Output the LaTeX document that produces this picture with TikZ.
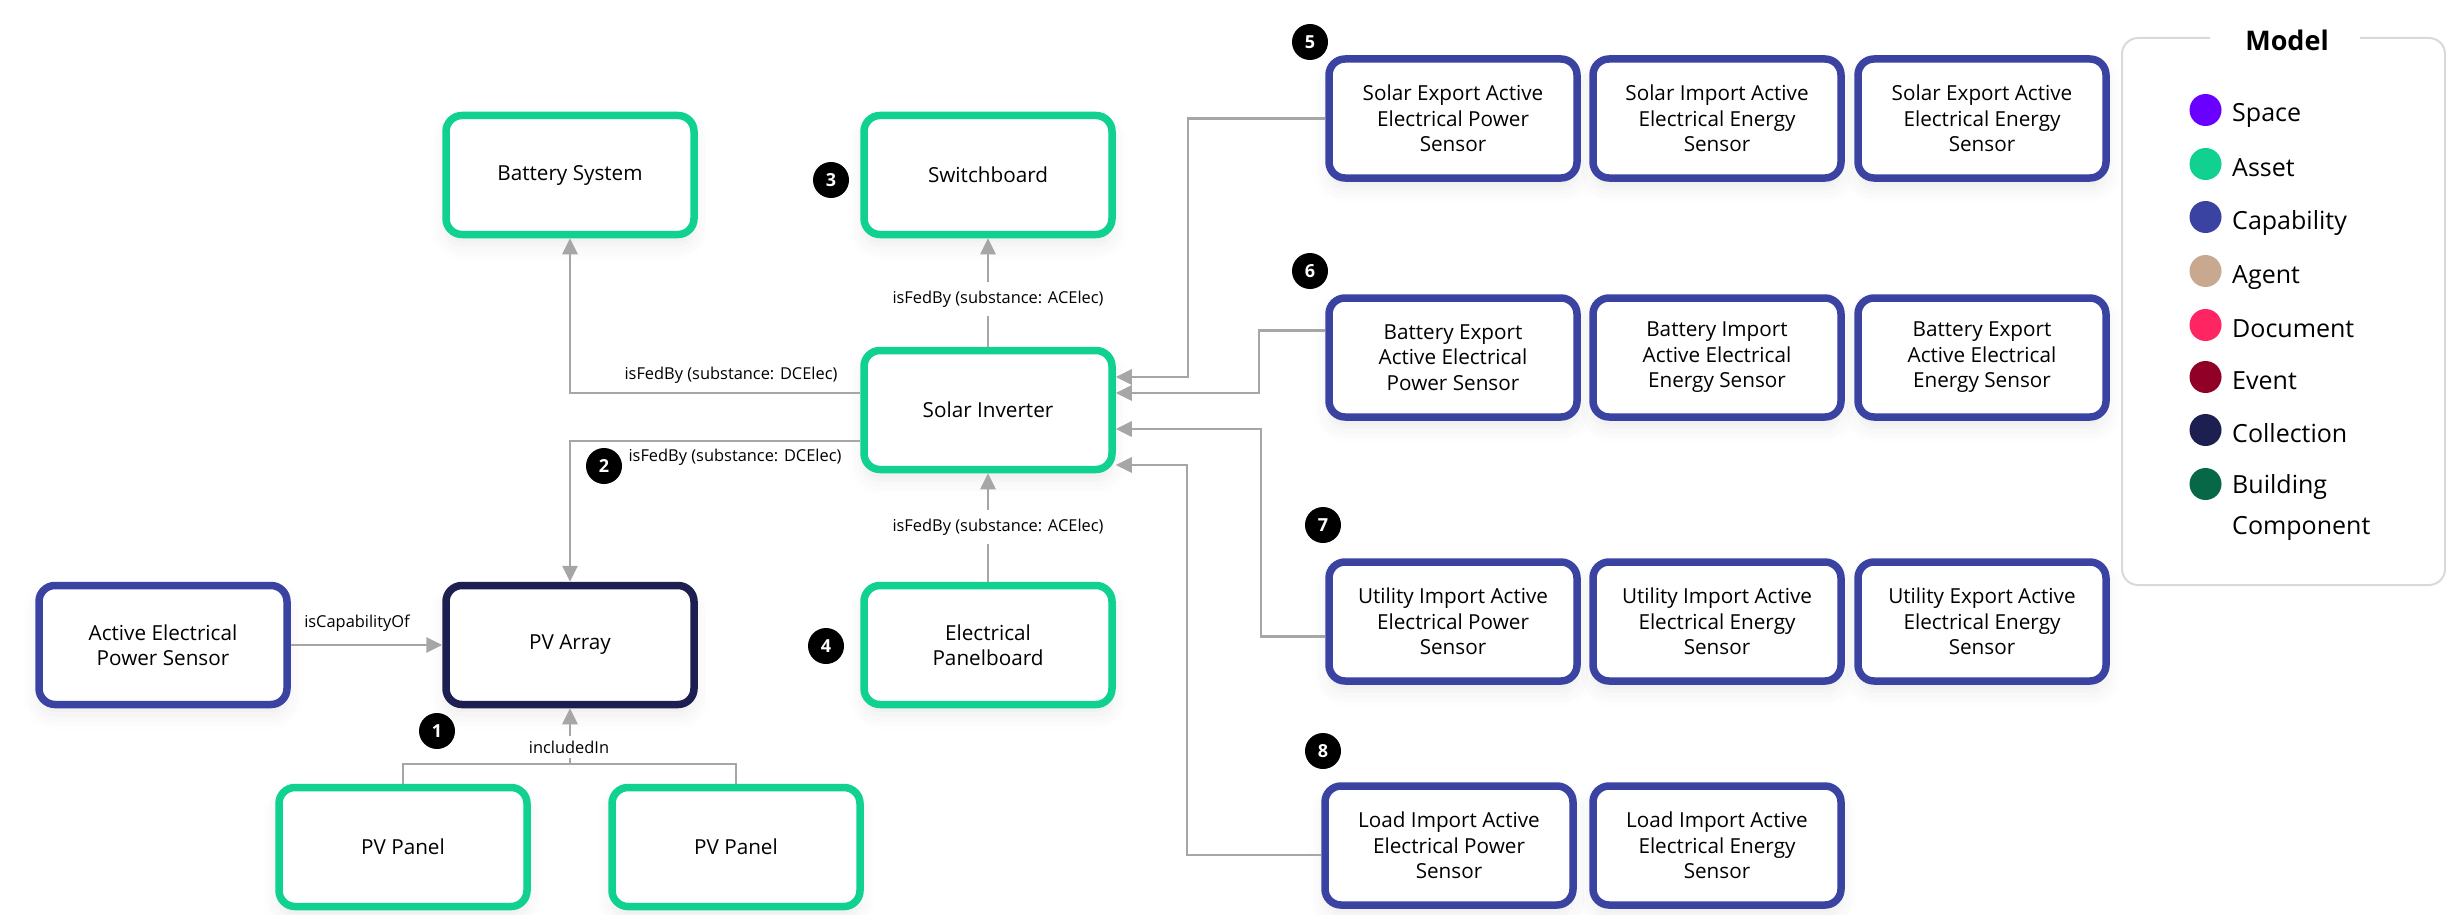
\documentclass[tikz,border=0pt]{standalone}
\usepackage{fontspec}
\setmainfont{Open Sans}
\usetikzlibrary{arrows.meta,shadows.blur,calc}

\definecolor{asset}{HTML}{10D18F}
\definecolor{capab}{HTML}{3A43A2}
\definecolor{collec}{HTML}{1C1F50}
\definecolor{connc}{HTML}{A6A6A6}
\definecolor{spacec}{HTML}{6A00FF}
\definecolor{agentc}{HTML}{C8A990}
\definecolor{docuc}{HTML}{FF2462}
\definecolor{eventc}{HTML}{900027}
\definecolor{bldgc}{HTML}{076848}
\definecolor{legline}{HTML}{D9D9D9}

\begin{document}
\begin{tikzpicture}[x=1pt,y=-1pt,
 box/.style={draw, line width=7.5pt, rounded corners=16pt, minimum width=248pt, minimum height=119pt,
   inner sep=0pt, align=center, fill=white, font=\fontsize{20.7}{25.5}\selectfont,
   blur shadow={shadow xshift=0pt, shadow yshift=-10pt, shadow blur radius=16pt, shadow opacity=8}},
 assetbox/.style={box, draw=asset},
 capbox/.style={box, draw=capab},
 colbox/.style={box, draw=collec},
 conn/.style={draw=connc, line width=2.7pt, -{Triangle[length=16pt,width=15pt]}},
 plainconn/.style={draw=connc, line width=2.7pt},
 lbl/.style={font=\fontsize{16.4}{19}\selectfont, inner sep=2pt},
 gaplbl/.style={lbl, fill=white, inner xsep=4pt, inner ysep=9pt},
 badge/.style={circle, fill=black, minimum size=36pt, inner sep=0pt, text=white, font=\bfseries\fontsize{18}{20}\selectfont},
 legdot/.style={circle, minimum size=32pt, inner sep=0pt},
 legtxt/.style={anchor=base west, font=\fontsize{25}{30}\selectfont, inner sep=0pt},
]
\useasboundingbox (0,0) rectangle (2452,915);

% asset / collection / capability nodes (left)
\node[assetbox] (bat) at (570,175) {Battery System};
\node[assetbox] (sw)  at (988,175) {Switchboard};
\node[assetbox] (inv) at (988,410) {Solar Inverter};
\node[assetbox] (pb)  at (988,645) {Electrical\\Panelboard};
\node[capbox]   (aes) at (163,645) {Active Electrical\\Power Sensor};
\node[colbox]   (pva) at (570,645) {PV Array};
\node[assetbox] (pp1) at (403,847) {PV Panel};
\node[assetbox] (pp2) at (736,847) {PV Panel};

% capability rows (right)
\node[capbox] (r5a) at (1453,118.5) {Solar Export Active\\Electrical Power\\Sensor};
\node[capbox] (r5b) at (1717,118.5) {Solar Import Active\\Electrical Energy\\Sensor};
\node[capbox] (r5c) at (1982,118.5) {Solar Export Active\\Electrical Energy\\Sensor};
\node[capbox] (r6a) at (1453,357.5) {Battery Export\\Active Electrical\\Power Sensor};
\node[capbox] (r6b) at (1717,357.5) {Battery Import\\Active Electrical\\Energy Sensor};
\node[capbox] (r6c) at (1982,357.5) {Battery Export\\Active Electrical\\Energy Sensor};
\node[capbox] (r7a) at (1453,621.5) {Utility Import Active\\Electrical Power\\Sensor};
\node[capbox] (r7b) at (1717,621.5) {Utility Import Active\\Electrical Energy\\Sensor};
\node[capbox] (r7c) at (1982,621.5) {Utility Export Active\\Electrical Energy\\Sensor};
\node[capbox] (r8a) at (1449,845.5) {Load Import Active\\Electrical Power\\Sensor};
\node[capbox] (r8b) at (1717,845.5) {Load Import Active\\Electrical Energy\\Sensor};

% connectors (left part)
\draw[conn] ([yshift=17pt]inv.west) -| (bat.south);
\draw[conn] ([yshift=-31pt]inv.west) -| (pva.north);
\draw[conn] (inv.north) -- (sw.south);
\draw[conn] (pb.north) -- (inv.south);
\draw[conn] (aes.east) -- (pva.west);
\coordinate (j) at (570,764);
\draw[plainconn] (pp1.north) |- (j) -| (pp2.north);
\draw[conn] (j) -- (pva.south);

% connectors (right part)
\coordinate (b5) at (1188,377);
\coordinate (b6) at (1259,393);
\coordinate (b7) at (1261,429);
\coordinate (b8) at (1187,465);
\draw[conn] (r5a.west) -| (b5) -- (b5 -| inv.east);
\draw[conn] ([yshift=27pt]r6a.west) -| (b6) -- (b6 -| inv.east);
\draw[conn] ([yshift=-15pt]r7a.west) -| (b7) -- (b7 -| inv.east);
\draw[conn] ([yshift=-9.5pt]r8a.west) -| (b8) -- (b8 -| inv.east);

% labels
\node[lbl] (l1) at (731,375) {isFedBy (substance: DCElec)};
\node[lbl] (l2) at (735,457) {isFedBy (substance: DCElec)};
\node[gaplbl] (l3) at (998,299) {isFedBy (substance: ACElec)};
\node[gaplbl] (l4) at (998,527) {isFedBy (substance: ACElec)};
\node[lbl] (l5) at (357,623) {isCapabilityOf};
\node[gaplbl, inner ysep=5pt] (l6) at (569,747) {includedIn};

% badges
\node[badge] (n1) at (437,731) {1};
\node[badge] (n2) at (604,466) {2};
\node[badge] (n3) at (831,180) {3};
\node[badge] (n4) at (826,646) {4};
\node[badge] (n5) at (1310,42) {5};
\node[badge] (n6) at (1310,271) {6};
\node[badge] (n7) at (1323,525) {7};
\node[badge] (n8) at (1323,751) {8};

% legend
\draw[legline, line width=2pt, rounded corners=16pt] (2210,38) -- (2122,38) -- (2122,585) -- (2445,585) -- (2445,38) -- (2360,38);
\node[anchor=base, font=\bfseries\fontsize{27}{30}\selectfont, inner sep=0pt] (lt) at (2287,51) {Model};
\node[legdot, fill=spacec] (d1) at (2205.5,110) {};
\node[legdot, fill=asset]  (d2) at (2205.5,164) {};
\node[legdot, fill=capab]  (d3) at (2205.5,217) {};
\node[legdot, fill=agentc] (d4) at (2205.5,271) {};
\node[legdot, fill=docuc]  (d5) at (2205.5,325) {};
\node[legdot, fill=eventc] (d6) at (2205.5,377) {};
\node[legdot, fill=collec] (d7) at (2205.5,430) {};
\node[legdot, fill=bldgc]  (d8) at (2205.5,484) {};
\node[legtxt] (t1) at (2232,122) {Space};
\node[legtxt] (t2) at (2232,176) {Asset};
\node[legtxt] (t3) at (2232,229) {Capability};
\node[legtxt] (t4) at (2232,283) {Agent};
\node[legtxt] (t5) at (2232,337) {Document};
\node[legtxt] (t6) at (2232,389) {Event};
\node[legtxt] (t7) at (2232,442) {Collection};
\node[legtxt] (t8) at (2232,493) {Building};
\node[legtxt] (t9) at (2232,534) {Component};
\end{tikzpicture}
\end{document}
